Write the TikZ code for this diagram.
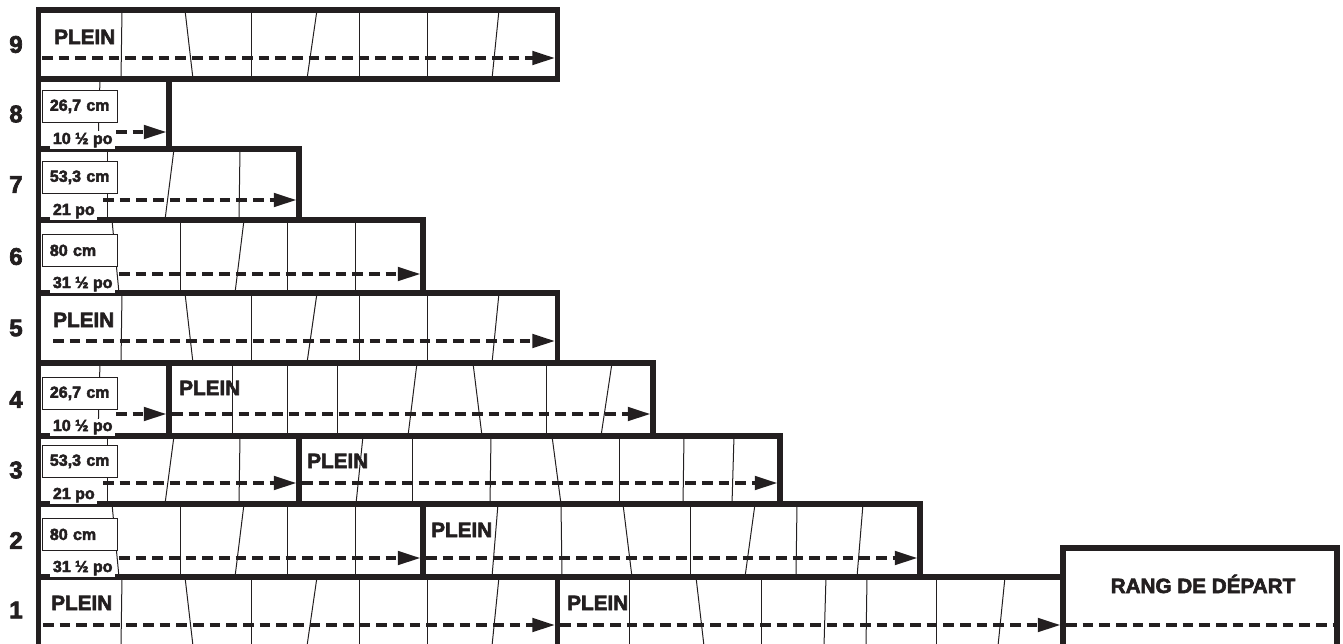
\documentclass[tikz,border=0pt]{standalone}
\usepackage{fontspec}
\setmainfont{Liberation Sans}[BoldFeatures={FakeBold=3}]
\usetikzlibrary{arrows.meta}
\definecolor{ink}{HTML}{231F20}
\begin{document}
\begin{tikzpicture}[x=0.75pt,y=-0.75pt,
  seam/.style={draw=ink, line width=0.75pt},
  thickb/.style={draw=ink, line width=4.4pt},
  arr/.style={draw=ink, line width=2.9pt, dash pattern=on 7.9pt off 4.6pt, -{Triangle[length=17pt,width=10pt]}},
  darr/.style={draw=ink, line width=2.9pt, dash pattern=on 7.9pt off 4.6pt},
  plein/.style={font=\fontsize{15.5}{18}\selectfont\bfseries, text=ink, inner sep=0pt, anchor=base west},
  rownum/.style={font=\fontsize{18}{20}\selectfont\bfseries, text=ink, inner sep=0pt},
  cmbox/.style={draw=ink, line width=0.6pt, fill=white, anchor=north west, minimum width=56.25pt, minimum height=24pt, inner xsep=5.5pt, inner ysep=0pt, text width=45pt, font=\fontsize{12}{13}\selectfont\bfseries, text=ink},
  potext/.style={fill=white, inner xsep=2pt, inner ysep=1pt, anchor=base west, font=\fontsize{12}{13}\selectfont\bfseries, text=ink}
]
\useasboundingbox (0,0) rectangle (1343,643);
\clip (0,0) rectangle (1343,643);

% ---------- seams ----------
\foreach \a/\b in {122/121,185/193,251/251,317/307,359/359,427/427,499/492}
  {\draw[seam] (\a,10) -- (\b,79); \draw[seam] (\a,293) -- (\b,363); \draw[seam] (\a,577) -- (\b,646);}
\draw[seam] (100,79) -- (98,149);
\draw[seam] (100,363) -- (98,436);
\foreach \a/\b in {107/107,174/165,240/239}
  {\draw[seam] (\a,149) -- (\b,220); \draw[seam] (\a,436) -- (\b,504);}
\foreach \a/\b in {112/119,180/180,244/235,287/287,355/355}
  {\draw[seam] (\a,220) -- (\b,293); \draw[seam] (\a,504) -- (\b,577);}
\foreach \a/\b in {232/232,287/287,337/337,417/408,473/482,546/546,612/601}
  \draw[seam] (\a,363) -- (\b,436);
\foreach \a/\b in {363/356,412/412,491/490,552/561,619/619,684/683,734/732}
  \draw[seam] (\a,436) -- (\b,504);
\foreach \a/\b in {498/492,561/562,623/632,690/690,755/745,797/796,863/857}
  \draw[seam] (\a,504) -- (\b,577);
\foreach \a/\b in {629/629,696/704,761/761,826/824,867/866,936/936,1005/998}
  \draw[seam] (\a,577) -- (\b,646);

% ---------- rows (thick outlines) ----------
\draw[thickb] (38.5,10) rectangle (557.5,79);
\draw[thickb] (38.5,79) rectangle (169,149);
\draw[thickb] (38.5,149) rectangle (299,220);
\draw[thickb] (38.5,220) rectangle (423,293);
\draw[thickb] (38.5,293) rectangle (557.5,363);
\draw[thickb] (38.5,363) rectangle (653,436);
\draw[thickb] (169,363) -- (169,436);
\draw[thickb] (38.5,436) rectangle (780,504);
\draw[thickb] (299,436) -- (299,504);
\draw[thickb] (38.5,504) rectangle (920,577);
\draw[thickb] (423,504) -- (423,577);
\draw[thickb] (38.5,577) rectangle (1063,660);
\draw[thickb] (557.5,577) -- (557.5,660);
\draw[thickb] (1063,548) rectangle (1337,660);

% ---------- row numbers ----------
\node[rownum] (n9) at (16,44.5) {9};
\node[rownum] (n8) at (16,114) {8};
\node[rownum] (n7) at (16,184.5) {7};
\node[rownum] (n6) at (16,256.5) {6};
\node[rownum] (n5) at (16,328) {5};
\node[rownum] (n4) at (16,399.5) {4};
\node[rownum] (n3) at (16,470) {3};
\node[rownum] (n2) at (16,540.5) {2};
\node[rownum] (n1) at (16,610) {1};

% ---------- PLEIN labels ----------
\node[plein] (p9) at (54,44) {PLEIN};
\node[plein] (p5) at (53,327) {PLEIN};
\node[plein] (p4) at (179,395) {PLEIN};
\node[plein] (p3) at (307,468) {PLEIN};
\node[plein] (p2) at (431,537) {PLEIN};
\node[plein] (p1a) at (51,610) {PLEIN};
\node[plein] (p1b) at (567,610) {PLEIN};

% ---------- cut labels ----------
\node[cmbox] (c8) at (42,90) {26,7 cm};
\node[potext] (o8) at (50,144) {10 ½ po};
\node[cmbox] (c7) at (42,161) {53,3 cm};
\node[potext] (o7) at (50,215) {21 po};
\node[cmbox] (c6) at (42,234) {80 cm};
\node[potext] (o6) at (50,288) {31 ½ po};
\node[cmbox] (c4) at (42,377) {26,7 cm};
\node[potext] (o4) at (50,431) {10 ½ po};
\node[cmbox] (c3) at (42,445) {53,3 cm};
\node[potext] (o3) at (50,499) {21 po};
\node[cmbox] (c2) at (42,518) {80 cm};
\node[potext] (o2) at (50,572) {31 ½ po};

% ---------- RANG DE DEPART ----------
\node[font=\fontsize{15.5}{18}\selectfont\bfseries, text=ink, inner sep=0pt, anchor=base] (rd) at (1203,593) {RANG DE DÉPART};

% ---------- arrows ----------
\coordinate (a9s) at (42,58);    \coordinate (a9e) at (555,58);
\coordinate (a8s) at (116,132);  \coordinate (a8e) at (166.5,132);
\coordinate (a7s) at (103,200);  \coordinate (a7e) at (296.5,200);
\coordinate (a6s) at (119,274);  \coordinate (a6e) at (420.5,274);
\coordinate (a5s) at (53,341);   \coordinate (a5e) at (555,341);
\coordinate (a4s) at (116,414);  \coordinate (a4e) at (166.5,414);
\coordinate (b4s) at (172,414);  \coordinate (b4e) at (650.5,414);
\coordinate (a3s) at (103,483);  \coordinate (a3e) at (296.5,483);
\coordinate (b3s) at (302,483);  \coordinate (b3e) at (777.5,483);
\coordinate (a2s) at (119,558);  \coordinate (a2e) at (420.5,558);
\coordinate (b2s) at (426,558);  \coordinate (b2e) at (917.5,558);
\coordinate (a1s) at (43,625);   \coordinate (a1e) at (555,625);
\coordinate (b1s) at (560,625);  \coordinate (b1e) at (1060.5,625);
\coordinate (d1s) at (1066,625); \coordinate (d1e) at (1337,625);
\draw[arr] (a9s) -- (a9e);
\draw[arr] (a8s) -- (a8e);
\draw[arr] (a7s) -- (a7e);
\draw[arr] (a6s) -- (a6e);
\draw[arr] (a5s) -- (a5e);
\draw[arr] (a4s) -- (a4e);
\draw[arr] (b4s) -- (b4e);
\draw[arr] (a3s) -- (a3e);
\draw[arr] (b3s) -- (b3e);
\draw[arr] (a2s) -- (a2e);
\draw[arr] (b2s) -- (b2e);
\draw[arr] (a1s) -- (a1e);
\draw[arr] (b1s) -- (b1e);
\draw[darr] (d1s) -- (d1e);
\end{tikzpicture}
\end{document}
